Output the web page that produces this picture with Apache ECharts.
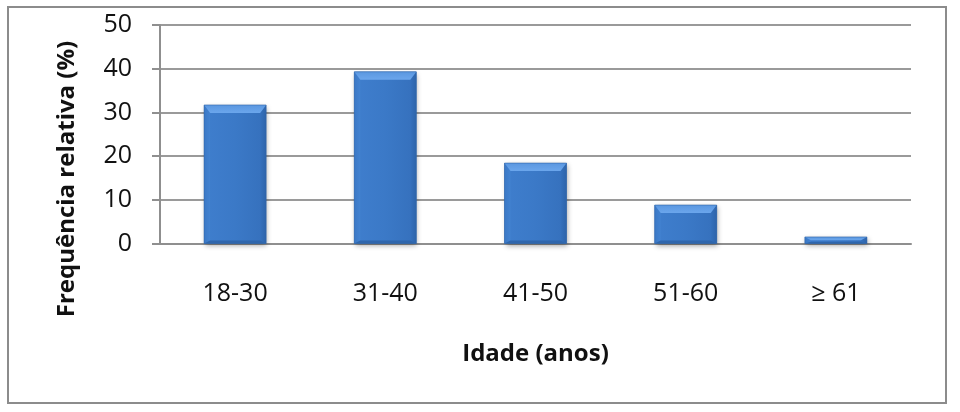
<!DOCTYPE html>
<html>
<head>
<meta charset="utf-8">
<script src="https://cdn.jsdelivr.net/npm/echarts@6/dist/echarts.min.js"></script>
<style>html,body{margin:0;padding:0;background:#fff}#c{width:960px;height:412px}</style>
</head>
<body>
<div id="c"></div>
<script>
const categories = ['18-30', '31-40', '41-50', '51-60', '≥ 61'];
const values = [31.7, 39.3, 18.4, 8.8, 1.5];
const yTicks = [0, 10, 20, 30, 40, 50];
const xTitle = 'Idade (anos)';
const yTitle = 'Frequência relativa (%)';

const FONT = '"Open Sans", sans-serif';
const BAR_W = 62;
const chart = echarts.init(document.getElementById('c'), null, {renderer: 'canvas'});

function renderBevelBar(params, api) {
  const top = api.coord([api.value(0), api.value(1)]);
  const base = api.coord([api.value(0), 0]);
  const x0 = top[0] - BAR_W / 2, x1 = top[0] + BAR_W / 2;
  const y0 = top[1], y1 = base[1];
  const h = y1 - y0;
  const b = Math.min(8, h / 2);
  const sb = Math.min(6, BAR_W / 2);
  const bb = Math.min(3, h / 4);
  return {
    type: 'group',
    children: [
      {type: 'rect', shape: {x: x0, y: y0, width: BAR_W, height: h},
       style: {fill: new echarts.graphic.LinearGradient(0, 0, 1, 0, [
         {offset: 0, color: '#3f7ecd'}, {offset: 0.5, color: '#3b79c7'}, {offset: 1, color: '#3570bc'}]),
         shadowColor: 'rgba(0,0,0,0.35)', shadowBlur: 5, shadowOffsetX: 1, shadowOffsetY: 2}},
      {type: 'polygon', shape: {points: [[x0, y0], [x0 + sb, y0 + b], [x0 + sb, y1 - bb], [x0, y1]]},
       style: {fill: new echarts.graphic.LinearGradient(0, 0, 1, 0, [
         {offset: 0, color: '#3a78c6'}, {offset: 1, color: '#4282d0'}])}},
      {type: 'polygon', shape: {points: [[x1, y0], [x1 - sb, y0 + b], [x1 - sb, y1 - bb], [x1, y1]]},
       style: {fill: new echarts.graphic.LinearGradient(0, 0, 1, 0, [
         {offset: 0, color: '#3571bd'}, {offset: 1, color: '#2e64aa'}])}},
      {type: 'polygon', shape: {points: [[x0, y1], [x0 + sb, y1 - bb], [x1 - sb, y1 - bb], [x1, y1]]},
       style: {fill: '#2f66ac'}},
      {type: 'polygon', shape: {points: [[x0, y0], [x1, y0], [x1 - sb, y0 + b], [x0 + sb, y0 + b]]},
       style: {fill: new echarts.graphic.LinearGradient(0, 0, 0, 1, [
         {offset: 0, color: '#5a97e0'}, {offset: 1, color: '#6ba6ec'}])}},
      {type: 'rect', shape: {x: x0, y: y0, width: BAR_W, height: h},
       style: {fill: 'none', stroke: '#2f65a8', lineWidth: 0.6}}
    ]
  };
}

chart.setOption({
  backgroundColor: '#ffffff',
  animation: false,
  grid: {left: 160, right: 49, top: 25, bottom: 168.5, containLabel: false},
  graphic: [
    {type: 'rect', shape: {x: 8, y: 7, width: 938, height: 396},
     style: {fill: 'none', stroke: '#8c8c8c', lineWidth: 2}, z: 0, silent: true},
    {type: 'text', x: 67, y: 179, rotation: Math.PI / 2,
     style: {text: yTitle, font: 'bold 24px ' + FONT, fill: '#111',
             textAlign: 'center', textVerticalAlign: 'middle'}, z: 10}
  ],
  xAxis: {
    type: 'category',
    data: categories,
    name: xTitle,
    nameLocation: 'middle',
    nameGap: 111,
    nameTextStyle: {fontFamily: FONT, fontWeight: 'bold', fontSize: 24, color: '#111', verticalAlign: 'middle'},
    axisLine: {show: true, lineStyle: {color: '#8f8f8f', width: 2}},
    axisTick: {show: false},
    axisLabel: {fontFamily: FONT, fontSize: 25, color: '#111', margin: 38},
    splitLine: {show: false}
  },
  yAxis: {
    type: 'value',
    min: 0, max: 50, interval: 10,
    axisLine: {show: true, lineStyle: {color: '#8f8f8f', width: 2}},
    axisTick: {show: true, length: 8, lineStyle: {color: '#8f8f8f', width: 2}},
    axisLabel: {fontFamily: FONT, fontSize: 25, color: '#111', margin: 28,
                formatter: v => yTicks.includes(v) ? String(v) : ''},
    splitLine: {show: true, lineStyle: {color: '#9a9a9a', width: 2}}
  },
  series: [{
    type: 'custom',
    data: values.map((v, i) => [i, v]),
    encode: {x: 0, y: 1},
    renderItem: renderBevelBar,
    z: 3
  }]
});
</script>
</body>
</html>
